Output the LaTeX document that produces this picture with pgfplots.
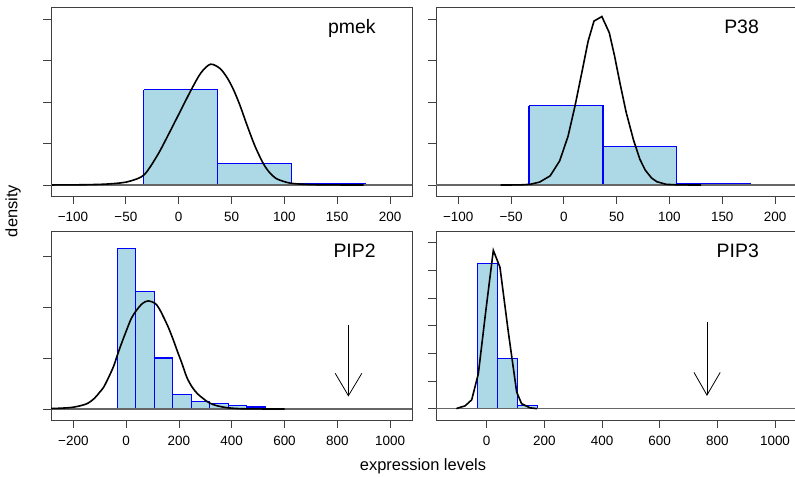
\documentclass[border=0pt]{standalone}
\usepackage{pgfplots}
\pgfplotsset{compat=1.18}
\usepackage{fontspec}
\setmainfont{Liberation Sans}

\definecolor{barfill}{RGB}{173,216,230}
\definecolor{barline}{RGB}{0,0,255}

\pgfplotsset{
  rpanel/.style={
    scale only axis, height=189bp, anchor=south west,
    axis line style={black!75, line width=0.8bp},
    tick align=outside, tick pos=left, major tick length=8bp,
    tick style={black!75, line width=0.8bp},
    yticklabels={},
    xticklabel style={font=\fontsize{13.5}{16}\selectfont, yshift=-4.5bp},
    /pgf/number format/assume math mode=true,
  },
  histfill/.style={const plot, fill=barfill, draw=none},
  histtop/.style={const plot, draw=barline, line width=1.2bp},
  histedge/.style={ycomb, draw=barline, line width=1.2bp},
  zeroline/.style={black!60, line width=1.4bp},
  dens/.style={black, line width=1.6bp},
  arr/.style={black, line width=0.8bp},
}
\newcommand{\panellabel}[1]{\node[anchor=base east, font=\fontsize{19.5}{22}\selectfont] at (rel axis cs:0.909,0.86) {#1};}

\begin{document}
\begin{tikzpicture}
\useasboundingbox (0,0) rectangle (795bp,477bp);

% pmek
\begin{axis}[rpanel, width=361bp, at={(51bp,281bp)},
  xmin=-120.8, xmax=220.8, ymin=-0.265, ymax=4.29,
  xtick={-100,-50,0,50,100,150,200},
  xticklabels={−100,−50,0,50,100,150,200},
  ytick={0,1,2,3,4}]
  \addplot[histfill] coordinates {(-33,2.30)(37,0.52)(107,0.03)(177,0)} \closedcycle;
  \addplot[histtop] coordinates {(-33,2.30)(37,0.52)(107,0.03)(177,0)};
  \addplot[histedge] coordinates {(-33,2.30)(37,2.30)(107,0.52)};
  \addplot[zeroline] coordinates {(-500,0)(500,0)};
  \addplot[dens, smooth] coordinates {
    (-120,0.001)(-90,0.006)(-70,0.02)(-55,0.05)(-45,0.1)(-32.5,0.25)
    (-20,0.72)(-10,1.2)(0,1.7)(12,2.30)(21,2.7)(30,2.91)(39,2.81)
    (46,2.58)(52,2.29)(58,1.92)(64,1.49)(72,0.95)(80,0.52)(86,0.3)
    (92,0.16)(100,0.08)(107,0.04)(120,0.015)(140,0.003)(175,0)};
  \panellabel{pmek}
\end{axis}

% P38
\begin{axis}[rpanel, width=359bp, at={(436bp,281bp)},
  xmin=-121.1, xmax=218.9, ymin=-0.265, ymax=4.29,
  xtick={-100,-50,0,50,100,150,200},
  xticklabels={−100,−50,0,50,100,150,200},
  ytick={0,1,2,3,4}]
  \addplot[histfill] coordinates {(-33,1.91)(37,0.92)(107,0.03)(177,0)} \closedcycle;
  \addplot[histtop] coordinates {(-33,1.91)(37,0.92)(107,0.03)(177,0)};
  \addplot[histedge] coordinates {(-33,1.91)(37,1.91)(107,0.92)};
  \addplot[zeroline] coordinates {(-500,0)(500,0)};
  \addplot[dens] coordinates {
    (-60,0)(-42,0.002)(-32,0.016)(-23,0.07)(-13,0.22)(-4,0.58)(4,1.18)
    (10.5,1.90)(17,2.71)(23,3.47)(28.5,3.95)(36,4.06)(43,3.67)(48,3.11)
    (53,2.47)(59,1.75)(66,1.08)(72,0.62)(77,0.36)(83,0.17)(88,0.08)
    (97,0.015)(110,0.002)(130,0)};
  \panellabel{P38}
\end{axis}

% PIP2
\begin{axis}[rpanel, width=361bp, at={(51bp,57bp)},
  xmin=-284.6, xmax=1083, ymin=-0.216, ymax=3.49,
  xtick={-200,0,200,400,600,800,1000},
  xticklabels={−200,0,200,400,600,800,1000},
  ytick={0,1,2,3}]
  \addplot[histfill] coordinates {(-33,3.15)(37,2.30)(107,1.0)(177,0.29)(247,0.14)
    (317,0.10)(387,0.065)(457,0.04)(527,0.014)(597,0)(667,0)(737,0)
    (807,0.014)(877,0)} \closedcycle;
  \addplot[histtop] coordinates {(-33,3.15)(37,2.30)(107,1.0)(177,0.29)(247,0.14)
    (317,0.10)(387,0.065)(457,0.04)(527,0.014)(597,0)(667,0)(737,0)
    (807,0.014)(877,0)};
  \addplot[histedge] coordinates {(-33,3.15)(37,3.15)(107,2.30)(177,1.0)(247,0.29)
    (317,0.14)(387,0.10)(457,0.065)(527,0.04)(597,0.014)};
  \addplot[zeroline] coordinates {(-2000,0)(2000,0)};
  \addplot[dens, smooth] coordinates {
    (-285,0.01)(-250,0.015)(-200,0.035)(-150,0.1)(-120,0.21)(-100,0.33)
    (-86,0.42)(-70,0.58)(-48,0.83)(-33,1.06)(-15,1.32)(2,1.55)(20,1.78)
    (40,1.94)(62,2.07)(84,2.12)(110,2.07)(125,1.97)(141,1.81)(160,1.6)
    (179,1.35)(195,1.12)(211,0.90)(230,0.62)(250,0.43)(270,0.3)(293,0.2)
    (315,0.12)(343,0.065)(381,0.026)(432,0.006)(500,0.001)(600,0)};
  \addplot[arr] coordinates {(842,1.65)(842,0.26)};
  \addplot[arr] coordinates {(792,0.70)(842,0.26)(893,0.70)};
  \panellabel{PIP2}
\end{axis}

% PIP3
\begin{axis}[rpanel, width=359bp, at={(436bp,57bp)},
  xmin=-175.8, xmax=1069.4, ymin=-0.41, ymax=6.42,
  xtick={0,200,400,600,800,1000},
  xticklabels={0,200,400,600,800,1000},
  ytick={0,1,2,3,4,5,6}]
  \addplot[histfill] coordinates {(-33,5.25)(37,1.81)(107,0.11)(177,0)} \closedcycle;
  \addplot[histtop] coordinates {(-33,5.25)(37,1.81)(107,0.11)(177,0)};
  \addplot[histedge] coordinates {(-33,5.25)(37,5.25)(107,1.81)};
  \addplot[zeroline] coordinates {(-2000,0)(2000,0)};
  \addplot[dens] coordinates {
    (-105,0)(-98,0.03)(-75,0.1)(-52,0.32)(-29,1.26)(-3,3.54)(23,5.72)
    (46,5.11)(75,2.77)(104,0.60)(121,0.18)(150,0.03)(175,0)};
  \addplot[arr] coordinates {(764,3.14)(764,0.49)};
  \addplot[arr] coordinates {(719,1.31)(764,0.49)(810,1.31)};
  \panellabel{PIP3}
\end{axis}

\node[anchor=base, font=\fontsize{16.5}{19}\selectfont] at (423bp,7bp) {expression levels};
\node[rotate=90, font=\fontsize{16.5}{19}\selectfont] at (13bp,266bp) {density};
\end{tikzpicture}
\end{document}
